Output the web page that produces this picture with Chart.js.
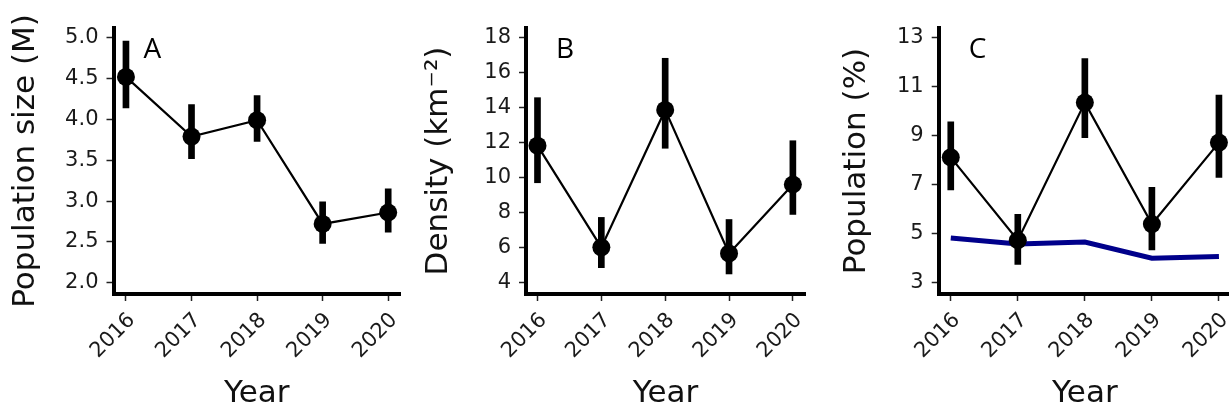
<!DOCTYPE html>
<html>
<head>
<meta charset="utf-8">
<script src="https://cdn.jsdelivr.net/npm/chart.js@4.4.1/dist/chart.umd.min.js"></script>
<style>
  html, body { margin: 0; padding: 0; background: #fff; overflow: hidden; }
  body { width: 1229px; height: 413px; position: relative; }
  canvas { position: absolute; top: 0; }
</style>
</head>
<body>
<canvas id="panelA" width="410" height="413" style="left:0px"></canvas>
<canvas id="panelB" width="410" height="413" style="left:410px"></canvas>
<canvas id="panelC" width="420" height="413" style="left:820px"></canvas>
<script>
var years = [2016, 2017, 2018, 2019, 2020];

// A: population size (M)
var popSize     = [4.52, 3.79, 3.99, 2.72, 2.86];
var popSizeLow  = [4.14, 3.52, 3.73, 2.48, 2.62];
var popSizeHigh = [4.96, 4.18, 4.29, 2.99, 3.15];
var ticksA = [2.0, 2.5, 3.0, 3.5, 4.0, 4.5, 5.0];

// B: density (km^-2)
var density     = [11.83, 6.02, 13.87, 5.67, 9.61];
var densityLow  = [9.71, 4.86, 11.68, 4.50, 7.90];
var densityHigh = [14.57, 7.73, 16.82, 7.61, 12.11];
var ticksB = [4, 6, 8, 10, 12, 14, 16, 18];

// C: population (%)
var popPct     = [8.11, 4.73, 10.34, 5.39, 8.71];
var popPctLow  = [6.78, 3.75, 8.91, 4.34, 7.29];
var popPctHigh = [9.56, 5.79, 12.13, 6.89, 10.65];
var popPctRef  = [4.82, 4.58, 4.66, 4.00, 4.07];
var ticksC = [3, 5, 7, 9, 11, 13];

var H = 413;
var tickFont = {family: 'DejaVu Sans', size: 21};
var titleFont = {family: 'DejaVu Sans', size: 31};

function pts(vals) {
  return years.map(function (y, i) { return {x: y, y: vals[i]}; });
}
function bars(lo, hi) {
  return years.map(function (y, i) { return {x: y, y: [lo[i], hi[i]]}; });
}

var panelLetter = {
  id: 'panelLetter',
  afterDraw: function (chart) {
    var o = chart.options.plugins.panelLetter;
    var ctx = chart.ctx;
    ctx.save();
    ctx.font = '28px "Open Sans"';
    ctx.fillStyle = '#000';
    ctx.textBaseline = 'alphabetic';
    ctx.fillText(o.text, chart.chartArea.left + 30, 57.5);
    ctx.restore();
  }
};

function makePanel(id, p) {
  var datasets = [
    {type: 'line', data: pts(p.values), borderColor: '#000', borderWidth: 2.2,
     pointRadius: 9, pointBackgroundColor: '#000', pointBorderWidth: 0, order: 0},
    {type: 'bar', data: bars(p.low, p.high), backgroundColor: '#000',
     barThickness: 6, borderWidth: 0, order: 1}
  ];
  if (p.ref) {
    datasets.push({type: 'line', data: pts(p.ref), borderColor: '#00008b', borderWidth: 5,
      pointRadius: 0, order: 2});
  }
  var canvas = document.getElementById(id);
  var W = canvas.width;
  new Chart(canvas, {
    type: 'line',
    data: {datasets: datasets},
    plugins: [panelLetter],
    options: {
      responsive: false,
      animation: false,
      layout: {padding: {left: 0, top: 28, right: W - p.right, bottom: 0}},
      plugins: {
        legend: {display: false},
        tooltip: {enabled: false},
        panelLetter: {text: p.letter}
      },
      scales: {
        x: {
          type: 'linear', offset: false,
          min: p.xmin, max: p.xmax,
          afterBuildTicks: function (s) { s.ticks = years.map(function (v) { return {value: v}; }); },
          afterFit: function (s) {
            s.height = H - 294;
            s.paddingLeft = 0; s.paddingRight = 0;
          },
          grid: {display: true, offset: false, drawOnChartArea: false, drawTicks: true,
                 tickLength: 7, tickColor: '#222', tickWidth: 1.5},
          border: {display: true, width: 4, color: '#000'},
          ticks: {font: tickFont, color: '#1a1a1a', minRotation: 45, maxRotation: 45,
                  autoSkip: false, padding: 7, labelOffset: 6,
                  callback: function (v) { return String(v); }},
          title: {display: true, text: 'Year', font: titleFont, color: '#111',
                  padding: {top: 0, bottom: 0}}
        },
        y: {
          type: 'linear',
          min: p.ymin, max: p.ymax,
          afterBuildTicks: function (s) { s.ticks = p.ticks.map(function (v) { return {value: v}; }); },
          afterFit: function (s) {
            s.width = p.left;
            s.paddingTop = 0; s.paddingBottom = 0;
          },
          grid: {display: true, drawOnChartArea: false, drawTicks: true,
                 tickLength: 7, tickColor: '#222', tickWidth: 1.5},
          border: {display: true, width: 4, color: '#000'},
          ticks: {font: tickFont, color: '#1a1a1a', padding: 8,
                  callback: p.fmt},
          title: {display: true, text: p.title, font: titleFont, color: '#111',
                  padding: {top: p.titlePad, bottom: 0}}
        }
      }
    }
  });
}

makePanel('panelA', {
  letter: 'A', values: popSize, low: popSizeLow, high: popSizeHigh,
  ticks: ticksA, ymin: 1.862, ymax: 5.119, xmin: 2015.81, xmax: 2020.18,
  left: 113.5, right: 400, title: 'Population size (M)', titlePad: 7,
  fmt: function (v) { return v.toFixed(1); }
});
makePanel('panelB', {
  letter: 'B', values: density, low: densityLow, high: densityHigh,
  ticks: ticksB, ymin: 3.355, ymax: 18.55, xmin: 2015.82, xmax: 2020.19,
  left: 116, right: 395, title: 'Density (km⁻²)', titlePad: 10,
  fmt: function (v) { return String(v); }
});
makePanel('panelC', {
  letter: 'C', values: popPct, low: popPctLow, high: popPctHigh, ref: popPctRef,
  ticks: ticksC, ymin: 2.54, ymax: 13.38, xmin: 2015.82, xmax: 2020.18,
  left: 118.7, right: 412, title: 'Population (%)', titlePad: 18,
  fmt: function (v) { return String(v); }
});
</script>
</body>
</html>
